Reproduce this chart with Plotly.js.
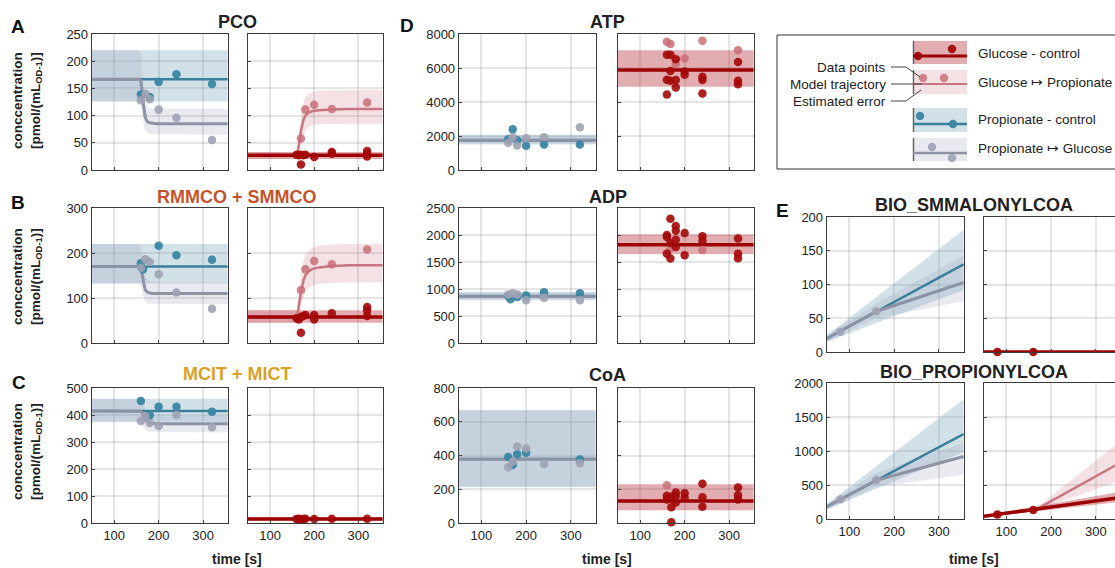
<!DOCTYPE html>
<html><head><meta charset="utf-8">
<script src="https://cdn.plot.ly/plotly-3.0.1.min.js"></script>
<style>html,body{margin:0;padding:0;overflow:hidden;background:#fff;width:1115px;height:568px}#chart{width:1125px;height:568px}</style>
</head><body><div id="chart"></div>
<script>
// ---------------- data ----------------
const xTicks = [100, 200, 300];
const FLAT = [50, 355];
const switchT  = [50, 157, 160, 162, 164, 166, 168, 170, 173, 176, 180, 186, 195, 210, 260, 355];
const switchT2 = [50, 160, 162, 164, 166, 168, 170, 173, 176, 180, 186, 195, 210, 240, 280, 355];

// A: PCO
const pcoPCtrlT = [160, 180, 200, 240, 320];
const pcoPCtrlY = [139, 134, 162, 176, 158];
const pcoPGluT = [160, 170, 180, 200, 240, 320];
const pcoPGluY = [128, 140, 130, 111, 96, 55];
const pcoGCtrlT = [160, 165, 170, 170, 175, 180, 200, 240, 240, 320, 320, 320];
const pcoGCtrlY = [28, 27, 10, 28, 27, 28, 24, 33, 30, 35, 25, 30];
const pcoGPropT = [170, 180, 200, 240, 320];
const pcoGPropY = [58, 111, 120, 112, 124];
const pcoPCtrlFit = [167, 167], pcoPCtrlHi = [220, 220], pcoPCtrlLo = [126, 126];
const pcoPGluFit = [167, 167, 163, 152, 135, 118, 105, 97, 91, 88, 87, 86, 85, 85, 85, 85];
const pcoPGluHi  = [220, 220, 214, 200, 180, 158, 140, 128, 120, 116, 114, 113, 112, 112, 112, 112];
const pcoPGluLo  = [126, 126, 120, 108, 95, 84, 77, 72, 69, 67, 66, 65, 65, 65, 65, 65];
const pcoGCtrlFit = [27, 27], pcoGCtrlHi = [33, 33], pcoGCtrlLo = [20, 20];
const pcoGPropFit = [27, 27, 30, 38, 48, 60, 72, 85, 93, 100, 105, 108, 110, 111, 112, 112];
const pcoGPropHi  = [33, 33, 40, 55, 72, 88, 100, 115, 125, 133, 139, 143, 146, 147, 147, 147];
const pcoGPropLo  = [20, 20, 21, 24, 30, 38, 46, 57, 65, 72, 78, 82, 84, 85, 85, 85];

// B: RMMCO + SMMCO
const rmmPCtrlT = [160, 165, 200, 240, 320];
const rmmPCtrlY = [177, 164, 216, 195, 185];
const rmmPGluT = [160, 170, 180, 200, 240, 320];
const rmmPGluY = [167, 186, 180, 153, 112, 76];
const rmmGCtrlT = [160, 165, 170, 170, 175, 180, 200, 200, 240, 320, 320, 320];
const rmmGCtrlY = [55, 52, 23, 58, 60, 62, 62, 52, 66, 80, 72, 60];
const rmmGPropT = [170, 180, 200, 240, 320];
const rmmGPropY = [118, 164, 182, 175, 208];
const rmmPCtrlFit = [170, 170], rmmPCtrlHi = [220, 220], rmmPCtrlLo = [132, 132];
const rmmPGluFit = [170, 170, 167, 160, 148, 135, 125, 118, 114, 112, 111, 110, 110, 110, 110, 110];
const rmmPGluHi  = [220, 220, 214, 202, 185, 168, 155, 147, 142, 139, 137, 136, 135, 135, 135, 135];
const rmmPGluLo  = [132, 132, 128, 120, 110, 102, 96, 92, 89, 88, 87, 86, 86, 86, 86, 86];
const rmmGCtrlFit = [58, 58], rmmGCtrlHi = [73, 73], rmmGCtrlLo = [45, 45];
const rmmGPropFit = [58, 58, 62, 72, 85, 100, 113, 128, 140, 150, 158, 164, 168, 171, 173, 173];
const rmmGPropHi  = [73, 73, 80, 95, 115, 135, 152, 170, 184, 195, 204, 211, 216, 219, 220, 220];
const rmmGPropLo  = [45, 45, 47, 52, 60, 70, 80, 93, 104, 113, 121, 127, 131, 134, 135, 135];

// C: MCIT + MICT
const micPCtrlT = [160, 180, 200, 240, 320];
const micPCtrlY = [452, 399, 431, 431, 412];
const micPGluT = [160, 170, 180, 200, 240, 320];
const micPGluY = [378, 395, 370, 359, 400, 355];
const micGCtrlT = [160, 165, 170, 175, 180, 200, 240, 320];
const micGCtrlY = [15, 16, 14, 15, 16, 15, 16, 16];
const micPCtrlFit = [415, 415], micPCtrlHi = [460, 460], micPCtrlLo = [375, 375];
const micPGluFit = [415, 415, 414, 410, 404, 397, 390, 384, 378, 374, 371, 369, 368, 368, 368, 368];
const micPGluHi  = [460, 460, 458, 452, 445, 437, 428, 420, 412, 406, 402, 400, 399, 398, 398, 398];
const micPGluLo  = [375, 375, 373, 368, 362, 356, 350, 346, 342, 339, 337, 336, 335, 335, 335, 335];
const micGCtrlFit = [15, 15], micGCtrlHi = [22, 22], micGCtrlLo = [9, 9];

// D: ATP
const atpPCtrlT = [160, 170, 180, 200, 240, 320];
const atpPCtrlY = [1810, 2400, 1750, 1420, 1500, 1500];
const atpPGluT = [160, 170, 180, 200, 240, 320];
const atpPGluY = [1610, 1930, 1440, 1870, 1930, 2520];
const atpGCtrlT = [160, 160, 160, 168, 168, 168, 180, 180, 180, 200, 200, 240, 240, 240, 320, 320, 320];
const atpGCtrlY = [6780, 5310, 4440, 6780, 5820, 5250, 6520, 5300, 4850, 5600, 5800, 5480, 5300, 4500, 6350, 5250, 5050];
const atpGPropT = [160, 168, 180, 200, 240, 320];
const atpGPropY = [7550, 7410, 6230, 6560, 7600, 7040];
const atpPCtrlFit = [1760, 1760], atpPCtrlHi = [2080, 2080], atpPCtrlLo = [1500, 1500];
const atpPGluFit = [1740, 1740], atpPGluHi = [2000, 2000], atpPGluLo = [1560, 1560];
const atpGCtrlFit = [5880, 5880], atpGCtrlHi = [7040, 7040], atpGCtrlLo = [4900, 4900];

// D: ADP
const adpPCtrlT = [160, 165, 180, 200, 240, 320];
const adpPCtrlY = [870, 810, 850, 880, 940, 920];
const adpPGluT = [160, 170, 180, 200, 240, 320];
const adpPGluY = [900, 920, 900, 790, 840, 790];
const adpGCtrlT = [160, 160, 160, 168, 168, 168, 180, 180, 180, 180, 200, 200, 240, 240, 320, 320, 320];
const adpGCtrlY = [2000, 1965, 1655, 2300, 1565, 1850, 2165, 2080, 1910, 1780, 2035, 1625, 1975, 1890, 1935, 1655, 1570];
const adpGPropT = [168, 240];
const adpGPropY = [1750, 1720];
const adpPCtrlFit = [870, 870], adpPCtrlHi = [950, 950], adpPCtrlLo = [790, 790];
const adpPGluFit = [860, 860], adpPGluHi = [930, 930], adpPGluLo = [810, 810];
const adpGCtrlFit = [1820, 1820], adpGCtrlHi = [2010, 2010], adpGCtrlLo = [1650, 1650];

// D: CoA
const coaPCtrlT = [160, 170, 180, 200, 320];
const coaPCtrlY = [391, 344, 407, 417, 377];
const coaPGluT = [160, 170, 180, 200, 240, 320];
const coaPGluY = [330, 365, 454, 442, 350, 354];
const coaGCtrlT = [160, 160, 170, 170, 170, 180, 180, 180, 200, 200, 240, 240, 240, 320, 320, 320];
const coaGCtrlY = [161, 140, 4, 94, 155, 181, 122, 160, 177, 150, 232, 153, 96, 210, 165, 140];
const coaGPropT = [160];
const coaGPropY = [224];
const coaPCtrlFit = [380, 380], coaPCtrlHi = [670, 670], coaPCtrlLo = [214, 214];
const coaPGluFit = [378, 378], coaPGluHi = [665, 665], coaPGluLo = [216, 216];
const coaGCtrlFit = [130, 130], coaGCtrlHi = [230, 230], coaGCtrlLo = [75, 75];

// E: BIO_SMMALONYLCOA
const bioT2 = [50, 355];
const bioT3 = [50, 160, 355];
const bioT3b = [50, 165, 355];
const smmPCtrlFit = [20, 130], smmPCtrlHi = [25, 181], smmPCtrlLo = [15, 92];
const smmPGluFit = [20, 60, 103], smmPGluHi = [25, 72, 143], smmPGluLo = [15, 50, 75];
const smmPGluT = [80, 160], smmPGluY = [30, 60];
const smmGCtrlFit = [0, 0];
const smmGCtrlT = [80, 160], smmGCtrlY = [0, 0];

// E: BIO_PROPIONYLCOA
const proPCtrlFit = [180, 1250], proPCtrlHi = [220, 1760], proPCtrlLo = [140, 980];
const proPGluFit = [180, 570, 920], proPGluHi = [220, 680, 1120], proPGluLo = [140, 470, 650];
const proPGluT = [80, 160], proPGluY = [290, 575];
const proGCtrlFit = [40, 317], proGCtrlHi = [50, 400], proGCtrlLo = [30, 250];
const proGPropFit = [40, 135, 830], proGPropHi = [50, 150, 1150], proGPropLo = [30, 120, 570];
const proGCtrlT = [80, 160], proGCtrlY = [65, 133];

// ---------------- styling ----------------
const W = 1125, H = 568;
const fx = p => p / W, fy = p => 1 - p / H;
const FONT = 'Liberation Sans, Arial, Helvetica, sans-serif';
const C = {
  red: '#9c0000', redDot: '#a30808', redBand: 'rgba(180,40,50,0.38)',
  pink: '#c9757f', pinkDot: '#c96e79', pinkBand: 'rgba(205,120,130,0.22)',
  teal: '#3a809b', tealDot: '#3a86a2', tealBand: 'rgba(105,155,180,0.30)',
  gray: '#8d93a5', grayDot: '#9ea2b2', grayBand: 'rgba(150,158,185,0.22)'
};

function band(T, lo, hi, fill) {
  return {type: 'scatter', mode: 'lines', x: T.concat(T.slice().reverse()), y: hi.concat(lo.slice().reverse()),
    fill: 'toself', fillcolor: fill, line: {width: 0}, hoverinfo: 'skip', showlegend: false};
}
function fit(T, Y, color, w) {
  return {type: 'scatter', mode: 'lines', x: T, y: Y, line: {color: color, width: w}, showlegend: false, cliponaxis: false};
}
function pts(T, Y, color, op) {
  return {type: 'scatter', mode: 'markers', x: T, y: Y, marker: {size: 8.5, color: color, opacity: op}, showlegend: false, cliponaxis: false};
}

const COL = {aL: [92, 228], aR: [248, 383], dL: [459, 596], dR: [618, 754], eL: [827, 964], eR: [984, 1121]};
const ROW = {r1: [34, 170], r2: [208, 343], r3: [388, 523], e1: [217, 352], e2: [383, 519]};

const subplots = [
  {c: 'aL', r: 'r1', yr: [0, 250], dt: 50, xl: false, left: true, tr: [
    band(FLAT, pcoPCtrlLo, pcoPCtrlHi, C.tealBand), band(switchT, pcoPGluLo, pcoPGluHi, C.grayBand),
    fit(FLAT, pcoPCtrlFit, C.teal, 2.5), fit(switchT, pcoPGluFit, C.gray, 3),
    pts(pcoPCtrlT, pcoPCtrlY, C.tealDot, 0.95), pts(pcoPGluT, pcoPGluY, C.grayDot, 0.9)]},
  {c: 'aR', r: 'r1', yr: [0, 250], dt: 50, xl: false, left: false, tr: [
    band(FLAT, pcoGCtrlLo, pcoGCtrlHi, C.redBand), band(switchT2, pcoGPropLo, pcoGPropHi, C.pinkBand),
    fit(switchT2, pcoGPropFit, C.pink, 2.5), fit(FLAT, pcoGCtrlFit, C.red, 3.5),
    pts(pcoGPropT, pcoGPropY, C.pinkDot, 0.85), pts(pcoGCtrlT, pcoGCtrlY, C.redDot, 0.9)]},
  {c: 'aL', r: 'r2', yr: [0, 300], dt: 100, xl: false, left: true, tr: [
    band(FLAT, rmmPCtrlLo, rmmPCtrlHi, C.tealBand), band(switchT, rmmPGluLo, rmmPGluHi, C.grayBand),
    fit(FLAT, rmmPCtrlFit, C.teal, 2.5), fit(switchT, rmmPGluFit, C.gray, 3),
    pts(rmmPCtrlT, rmmPCtrlY, C.tealDot, 0.95), pts(rmmPGluT, rmmPGluY, C.grayDot, 0.9)]},
  {c: 'aR', r: 'r2', yr: [0, 300], dt: 100, xl: false, left: false, tr: [
    band(FLAT, rmmGCtrlLo, rmmGCtrlHi, C.redBand), band(switchT2, rmmGPropLo, rmmGPropHi, C.pinkBand),
    fit(switchT2, rmmGPropFit, C.pink, 2.5), fit(FLAT, rmmGCtrlFit, C.red, 3.5),
    pts(rmmGPropT, rmmGPropY, C.pinkDot, 0.85), pts(rmmGCtrlT, rmmGCtrlY, C.redDot, 0.9)]},
  {c: 'aL', r: 'r3', yr: [0, 500], dt: 100, xl: true, left: true, tr: [
    band(FLAT, micPCtrlLo, micPCtrlHi, C.tealBand), band(switchT, micPGluLo, micPGluHi, C.grayBand),
    fit(FLAT, micPCtrlFit, C.teal, 2.5), fit(switchT, micPGluFit, C.gray, 3),
    pts(micPCtrlT, micPCtrlY, C.tealDot, 0.95), pts(micPGluT, micPGluY, C.grayDot, 0.9)]},
  {c: 'aR', r: 'r3', yr: [0, 500], dt: 100, xl: true, left: false, tr: [
    band(FLAT, micGCtrlLo, micGCtrlHi, C.redBand), fit(FLAT, micGCtrlFit, C.red, 3.5),
    pts(micGCtrlT, micGCtrlY, C.redDot, 0.9)]},
  {c: 'dL', r: 'r1', yr: [0, 8000], dt: 2000, xl: false, left: true, tr: [
    band(FLAT, atpPCtrlLo, atpPCtrlHi, C.tealBand), band(FLAT, atpPGluLo, atpPGluHi, C.grayBand),
    fit(FLAT, atpPCtrlFit, C.teal, 2.5), fit(FLAT, atpPGluFit, C.gray, 3),
    pts(atpPCtrlT, atpPCtrlY, C.tealDot, 0.95), pts(atpPGluT, atpPGluY, C.grayDot, 0.9)]},
  {c: 'dR', r: 'r1', yr: [0, 8000], dt: 2000, xl: false, left: false, tr: [
    band(FLAT, atpGCtrlLo, atpGCtrlHi, C.redBand), fit(FLAT, atpGCtrlFit, C.red, 3.5),
    pts(atpGPropT, atpGPropY, C.pinkDot, 0.85), pts(atpGCtrlT, atpGCtrlY, C.redDot, 0.9)]},
  {c: 'dL', r: 'r2', yr: [0, 2500], dt: 500, xl: false, left: true, tr: [
    band(FLAT, adpPCtrlLo, adpPCtrlHi, C.tealBand), band(FLAT, adpPGluLo, adpPGluHi, C.grayBand),
    fit(FLAT, adpPCtrlFit, C.teal, 2.5), fit(FLAT, adpPGluFit, C.gray, 3),
    pts(adpPCtrlT, adpPCtrlY, C.tealDot, 0.95), pts(adpPGluT, adpPGluY, C.grayDot, 0.9)]},
  {c: 'dR', r: 'r2', yr: [0, 2500], dt: 500, xl: false, left: false, tr: [
    band(FLAT, adpGCtrlLo, adpGCtrlHi, C.redBand), fit(FLAT, adpGCtrlFit, C.red, 3.5),
    pts(adpGPropT, adpGPropY, C.pinkDot, 0.85), pts(adpGCtrlT, adpGCtrlY, C.redDot, 0.9)]},
  {c: 'dL', r: 'r3', yr: [0, 800], dt: 200, xl: true, left: true, tr: [
    band(FLAT, coaPCtrlLo, coaPCtrlHi, C.tealBand), band(FLAT, coaPGluLo, coaPGluHi, C.grayBand),
    fit(FLAT, coaPCtrlFit, C.teal, 2.5), fit(FLAT, coaPGluFit, C.gray, 3),
    pts(coaPCtrlT, coaPCtrlY, C.tealDot, 0.95), pts(coaPGluT, coaPGluY, C.grayDot, 0.9)]},
  {c: 'dR', r: 'r3', yr: [0, 800], dt: 200, xl: true, left: false, tr: [
    band(FLAT, coaGCtrlLo, coaGCtrlHi, C.redBand), fit(FLAT, coaGCtrlFit, C.red, 3.5),
    pts(coaGPropT, coaGPropY, C.pinkDot, 0.85), pts(coaGCtrlT, coaGCtrlY, C.redDot, 0.9)]},
  {c: 'eL', r: 'e1', yr: [0, 200], dt: 50, xl: false, left: true, tr: [
    band(bioT2, smmPCtrlLo, smmPCtrlHi, C.tealBand), band(bioT3, smmPGluLo, smmPGluHi, C.grayBand),
    fit(bioT2, smmPCtrlFit, C.teal, 2.5), fit(bioT3, smmPGluFit, C.gray, 3),
    pts(smmPGluT, smmPGluY, C.grayDot, 0.9)]},
  {c: 'eR', r: 'e1', yr: [0, 200], dt: 50, xl: false, left: false, tr: [
    fit(bioT2, smmGCtrlFit, C.red, 3.5), pts(smmGCtrlT, smmGCtrlY, C.redDot, 0.95)]},
  {c: 'eL', r: 'e2', yr: [0, 2000], dt: 500, xl: true, left: true, tr: [
    band(bioT2, proPCtrlLo, proPCtrlHi, C.tealBand), band(bioT3, proPGluLo, proPGluHi, C.grayBand),
    fit(bioT2, proPCtrlFit, C.teal, 2.5), fit(bioT3, proPGluFit, C.gray, 3),
    pts(proPGluT, proPGluY, C.grayDot, 0.9)]},
  {c: 'eR', r: 'e2', yr: [0, 2000], dt: 500, xl: true, left: false, tr: [
    band(bioT2, proGCtrlLo, proGCtrlHi, C.redBand), band(bioT3b, proGPropLo, proGPropHi, C.pinkBand),
    fit(bioT3b, proGPropFit, C.pink, 2.5), fit(bioT2, proGCtrlFit, C.red, 3.5),
    pts(proGCtrlT, proGCtrlY, C.redDot, 0.95)]}
];

const data = [];
const layout = {
  width: W, height: H, margin: {l: 0, r: 0, t: 0, b: 0}, paper_bgcolor: '#fff', plot_bgcolor: '#fff',
  showlegend: false, font: {family: FONT, color: '#222', size: 13}, annotations: [], shapes: []
};
subplots.forEach((s, i) => {
  const n = i + 1, sx = n === 1 ? '' : String(n);
  s.tr.forEach(t => { t.xaxis = 'x' + sx; t.yaxis = 'y' + sx; data.push(t); });
  const common = {showline: true, linecolor: '#3a3a3a', linewidth: 1.3, mirror: true, zeroline: false,
    showgrid: true, gridcolor: 'rgba(0,0,0,0.10)', gridwidth: 2, ticks: 'inside', ticklen: 3, tickcolor: '#444',
    tickfont: {size: 13, color: '#222'}, fixedrange: true};
  layout['xaxis' + sx] = Object.assign({}, common, {domain: [fx(COL[s.c][0]), fx(COL[s.c][1])], range: [50, 356],
    tickvals: xTicks, showticklabels: s.xl, anchor: 'y' + sx});
  layout['yaxis' + sx] = Object.assign({}, common, {domain: [fy(ROW[s.r][1]), fy(ROW[s.r][0])], range: s.yr,
    dtick: s.dt, tick0: 0, showticklabels: s.left, anchor: 'x' + sx});
});

function ann(text, x, y, opt) {
  layout.annotations.push(Object.assign({text: text, x: fx(x), y: fy(y), xref: 'paper', yref: 'paper', showarrow: false,
    xanchor: 'center', yanchor: 'middle', font: {family: FONT, size: 13, color: '#222'}}, opt || {}));
}
const bold = (size, color) => ({font: {family: FONT, size: size, color: color || '#222', weight: 'bold'}});
// panel titles
ann('PCO', 237, 22, bold(18));
ann('RMMCO + SMMCO', 237, 197, bold(18, '#c4532b'));
ann('MCIT + MICT', 237, 374, bold(18, '#d9a127'));
ann('ATP', 607, 22, bold(18));
ann('ADP', 608, 197, bold(18));
ann('CoA', 607, 375, bold(18));
ann('BIO_SMMALONYLCOA', 974, 205, bold(18));
ann('BIO_PROPIONYLCOA', 974, 372, bold(18));
// panel letters
ann('A', 18, 27, bold(19, '#111'));
ann('B', 18, 202, bold(19, '#111'));
ann('C', 19, 382, bold(19, '#111'));
ann('D', 407, 25, bold(19, '#111'));
ann('E', 782, 210, bold(19, '#111'));
// x titles
ann('time [s]', 237, 559, bold(14));
ann('time [s]', 607, 559, bold(14));
ann('time [s]', 974, 559, bold(14));
// y titles
const yTitle = 'conccentration<br>[pmol/(mL<sub>OD-1</sub>)]';
[101, 277, 452].forEach(cy => ann(yTitle, 27, cy, Object.assign({textangle: -90}, bold(13.5))));

// ---------- legend box (decoration) ----------
function pxRect(x0, y0, x1, y1, fill, lc, lw) {
  layout.shapes.push({type: 'rect', xref: 'paper', yref: 'paper', x0: fx(x0), x1: fx(x1), y0: fy(y1), y1: fy(y0),
    fillcolor: fill, line: {color: lc || 'rgba(0,0,0,0)', width: lw || 0}, layer: 'above'});
}
function pxLine(x0, y0, x1, y1, color, w) {
  layout.shapes.push({type: 'line', xref: 'paper', yref: 'paper', x0: fx(x0), x1: fx(x1), y0: fy(y0), y1: fy(y1),
    line: {color: color, width: w}, layer: 'above'});
}
function pxDot(cx, cy, color, op) {
  layout.shapes.push({type: 'circle', xref: 'paper', yref: 'paper', x0: fx(cx - 4.2), x1: fx(cx + 4.2), y0: fy(cy + 4.2), y1: fy(cy - 4.2),
    fillcolor: color, opacity: op, line: {width: 0}, layer: 'above'});
}
pxRect(777, 35, 1122, 169, 'rgba(0,0,0,0)', '#333', 1);
const sw = [
  {y0: 41, y1: 64, band: C.redBand, line: C.red, lw: 3, ly: 56, dc: C.redDot, d: [[918, 56], [952, 49]], op: 0.95},
  {y0: 70, y1: 94, band: C.pinkBand, line: C.pink, lw: 2.2, ly: 84, dc: C.pinkDot, d: [[923, 78], [944, 78]], op: 0.85},
  {y0: 108, y1: 132, band: C.tealBand, line: C.teal, lw: 2.5, ly: 124, dc: C.tealDot, d: [[920, 116], [953, 124]], op: 0.95},
  {y0: 138, y1: 161, band: C.grayBand, line: C.gray, lw: 2.5, ly: 153, dc: C.grayDot, d: [[932, 147], [952, 158]], op: 0.9}
];
sw.forEach(s => {
  pxRect(913, s.y0, 967, s.y1, s.band);
  pxLine(913.5, s.y0, 913.5, s.y1, '#666', 1.5);
  pxLine(913, s.ly, 967, s.ly, s.line, s.lw);
  s.d.forEach(p => pxDot(p[0], p[1], s.dc, s.op));
});
// leader lines
layout.shapes.push({type: 'path', xref: 'paper', yref: 'paper', layer: 'above', line: {color: '#444', width: 1},
  path: `M ${fx(891)} ${fy(67)} L ${fx(906)} ${fy(67)} L ${fx(920)} ${fy(77)}`});
pxLine(891, 84, 922, 84, '#444', 1);
layout.shapes.push({type: 'path', xref: 'paper', yref: 'paper', layer: 'above', line: {color: '#444', width: 1},
  path: `M ${fx(891)} ${fy(101)} L ${fx(906)} ${fy(101)} L ${fx(921)} ${fy(90)}`});
const lt = {xanchor: 'right', font: {family: FONT, size: 13.5, color: '#222'}};
ann('Data points', 888, 67, lt);
ann('Model trajectory', 888, 84, lt);
ann('Estimated error', 888, 101, lt);
const rt = {xanchor: 'left', font: {family: FONT, size: 13.5, color: '#222'}};
ann('Glucose - control', 976, 53, rt);
ann('Glucose \u21A6 Propionate', 976, 82, rt);
ann('Propionate - control', 976, 119, rt);
ann('Propionate \u21A6 Glucose', 976, 148, rt);

Plotly.newPlot('chart', data, layout, {staticPlot: true, displayModeBar: false});
</script></body></html>
